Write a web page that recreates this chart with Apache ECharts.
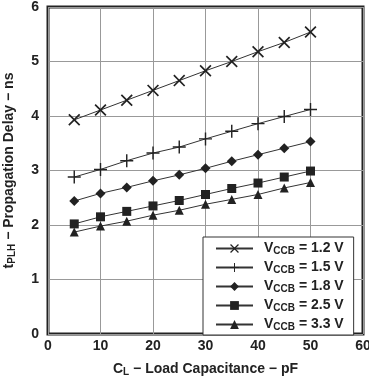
<!DOCTYPE html>
<html><head><meta charset="utf-8">
<script src="https://cdn.jsdelivr.net/npm/echarts@6/dist/echarts.min.js"></script>
<style>html,body{margin:0;padding:0;background:#fff}#c{width:369px;height:378px}</style>
</head><body><div id="c"></div>
<script>
var capacitance = [5, 10, 15, 20, 25, 30, 35, 40, 45, 50];
var v12 = [3.93, 4.11, 4.29, 4.47, 4.65, 4.83, 5.00, 5.18, 5.35, 5.54];
var v15 = [2.88, 3.02, 3.18, 3.32, 3.43, 3.58, 3.72, 3.86, 3.99, 4.12];
var v18 = [2.44, 2.58, 2.69, 2.81, 2.92, 3.04, 3.17, 3.29, 3.41, 3.53];
var v25 = [2.02, 2.15, 2.25, 2.35, 2.45, 2.56, 2.67, 2.77, 2.88, 2.99];
var v33 = [1.87, 1.98, 2.07, 2.18, 2.27, 2.38, 2.47, 2.56, 2.68, 2.78];
var seriesNames = ['1.2', '1.5', '1.8', '2.5', '3.3'];
var seriesValues = [v12, v15, v18, v25, v33];

var X_PATH = 'path://M1 0 L5 4 L9 0 L10 1 L6 5 L10 9 L9 10 L5 6 L1 10 L0 9 L4 5 L0 1 Z';
var PLUS_PATH = 'path://M4.45 0 H5.55 V4.45 H10 V5.55 H5.55 V10 H4.45 V5.55 H0 V4.45 H4.45 Z';
var symbols = [X_PATH, PLUS_PATH, 'diamond', 'rect', 'triangle'];
var sizes = [12, 13, 10, 9, 9];

var FONT = '"Liberation Sans", Arial, sans-serif';
var ink = '#222';

var series = seriesNames.map(function (n, i) {
  return {
    name: n,
    type: 'line',
    data: capacitance.map(function (c, j) { return [c, seriesValues[i][j]]; }),
    symbol: symbols[i],
    symbolSize: sizes[i],
    showAllSymbol: true,
    lineStyle: { color: '#333', width: 1 },
    itemStyle: { color: ink },
    emphasis: { disabled: true },
    animation: false
  };
});

var chart = echarts.init(document.getElementById('c'), null, { renderer: 'canvas' });
chart.setOption({
  animation: false,
  grid: { left: 48, right: 6, top: 7, bottom: 44, containLabel: false, outerBoundsMode: 'none', show: true, borderColor: ink, borderWidth: 3, backgroundColor: 'transparent' },
  xAxis: {
    type: 'value', min: 0, max: 60, interval: 10,
    axisLine: { show: false }, axisTick: { show: false },
    splitLine: { show: true, lineStyle: { color: '#999', width: 1 } },
    axisLabel: { color: ink, fontFamily: FONT, fontWeight: 'bold', fontSize: 14, margin: 5 },
    name: '{a|C}{s|L}{a| − Load Capacitance − pF}',
    nameLocation: 'middle', nameGap: 26,
    nameTextStyle: {
      rich: {
        a: { color: ink, fontFamily: FONT, fontWeight: 'bold', fontSize: 14, lineHeight: 18 },
        s: { color: ink, fontFamily: FONT, fontWeight: 'bold', fontSize: 10, padding: [7, 0, 0, 0], lineHeight: 18 }
      }
    }
  },
  yAxis: {
    type: 'value', min: 0, max: 6, interval: 1,
    axisLine: { show: false }, axisTick: { show: false },
    splitLine: { show: true, lineStyle: { color: '#999', width: 1 } },
    axisLabel: { color: ink, fontFamily: FONT, fontWeight: 'bold', fontSize: 14, margin: 9 },
    name: '{a|t}{s|PLH}{a| − Propagation Delay − ns}',
    nameLocation: 'middle', nameGap: 30, nameRotate: 90,
    nameTextStyle: {
      rich: {
        a: { color: ink, fontFamily: FONT, fontWeight: 'bold', fontSize: 14, lineHeight: 18 },
        s: { color: ink, fontFamily: FONT, fontWeight: 'bold', fontSize: 10, padding: [7, 0, 0, 0], lineHeight: 18 }
      }
    }
  },
  legend: {
    orient: 'vertical',
    left: 203, top: 237,
    padding: [4, 10, 3, 12],
    backgroundColor: '#fff',
    borderColor: '#333', borderWidth: 1,
    itemWidth: 37, itemHeight: 11, itemGap: 4,
    selectedMode: false,
    data: seriesNames,
    formatter: function (n) { return '{p|}{a|V}{s|CCB}{a| = ' + n + ' V}'; },
    textStyle: {
      rich: {
        p: { width: 6 },
        a: { color: ink, fontFamily: FONT, fontWeight: 'bold', fontSize: 14, lineHeight: 14 },
        s: { color: ink, fontFamily: FONT, fontWeight: 'bold', fontSize: 10, padding: [5, 0, 0, 0], lineHeight: 14 }
      }
    }
  },
  series: series
});
</script></body></html>
